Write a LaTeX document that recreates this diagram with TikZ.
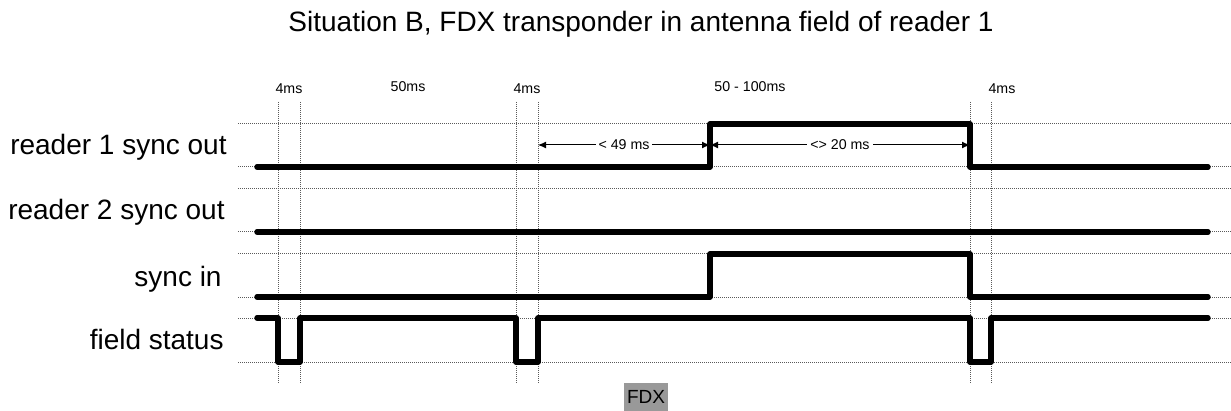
\documentclass[tikz,border=0pt]{standalone}
\usepackage{fontspec}
\setmainfont{Liberation Sans}
\usetikzlibrary{arrows.meta,positioning}
\definecolor{gridgray}{HTML}{5A5A5A}
\definecolor{fdxgray}{HTML}{999999}

\begin{document}
\begin{tikzpicture}[x=0.5pt, y=-0.5pt, every node/.style={inner sep=0pt}, big/.style={font=\fontsize{14}{16}\selectfont}, small/.style={font=\fontsize{7.1}{8}\selectfont}, grid/.style={gridgray,line width=0.5pt,dash pattern=on 0.5pt off 0.5pt}, sig/.style={line width=2.7pt,line cap=round,line join=round}, dim/.style={{Latex[length=4pt,width=3.5pt]}-{Latex[length=4pt,width=3.5pt]},line width=0.5pt}, dimlbl/.style={small,fill=white,inner sep=1.5pt}, fdxbox/.style={fill=fdxgray,minimum width=22pt,minimum height=14pt,font=\fontsize{9.5}{10}\selectfont}]
\useasboundingbox (0,0) rectangle (1231,411);
\node[big,anchor=base] (title) at (641,32) {Situation B, FDX transponder in antenna field of reader 1};
% grid
\foreach \y in {124,167,189,232,254,297,318,362}
  \draw[grid] (238,\y) -- (1231,\y);
\foreach \x in {278,300,516,538,970,991}
  \draw[grid] (\x,102) -- (\x,383);
% time labels
\node[small,anchor=base] (t1) at (289,94) {4ms};
\node[small,anchor=base] (t2) at (408,92) {50ms};
\node[small,anchor=base] (t3) at (527,94) {4ms};
\node[small,anchor=base] (t4) at (750,92) {50 - 100ms};
\node[small,anchor=base] (t5) at (1002,94) {4ms};
% signal names
\node[big,anchor=base east] (r1) at (227,155) {reader 1 sync out};
\node[big,anchor=base east] (r2) at (225,220) {reader 2 sync out};
\node[big,anchor=base east] (si) at (222,286) {sync in};
\node[big,anchor=base east] (fs) at (224,350) {field status};
% signals
\draw[sig] (257,167) -- (710,167) -- (710,124) -- (970,124) -- (970,167) -- (1208,167);
\draw[sig] (257,232) -- (1208,232);
\draw[sig] (257,297) -- (710,297) -- (710,254) -- (970,254) -- (970,297) -- (1208,297);
\draw[sig] (257,318) -- (278,318) -- (278,362) -- (300,362) -- (300,318) -- (516,318) -- (516,362) -- (538,362) -- (538,318) -- (970,318) -- (970,362) -- (991,362) -- (991,318) -- (1208,318);
% dimensions
\coordinate (a) at (538,145);
\coordinate (b) at (710,145);
\coordinate (c) at (970,145);
\draw[dim] (a) -- node[dimlbl] (d1) {< 49 ms} (b);
\draw[dim] (b) -- node[dimlbl] (d2) {<> 20 ms} (c);
\node[fdxbox,anchor=north] (fdx) at (646,383) {FDX};
\end{tikzpicture}
\end{document}
